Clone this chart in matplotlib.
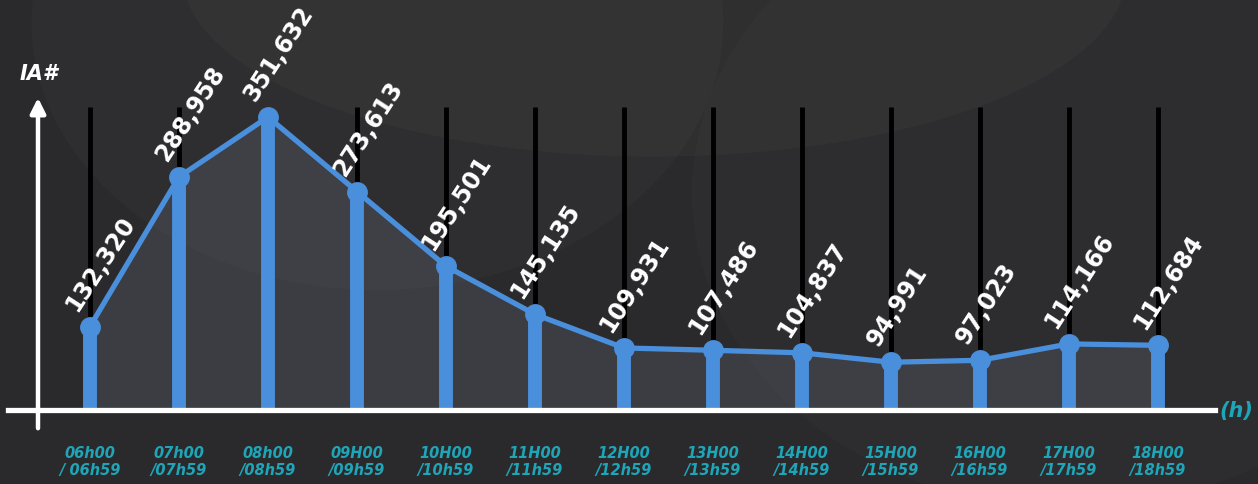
import matplotlib
matplotlib.use("Agg")
import matplotlib.pyplot as plt
from matplotlib.patches import Ellipse

# chart data
hours = ["06h00\n/ 06h59", "07h00\n/07h59", "08h00\n/08h59", "09H00\n/09h59",
         "10H00\n/10h59", "11H00\n/11h59", "12H00\n/12h59", "13H00\n/13h59",
         "14H00\n/14h59", "15H00\n/15h59", "16H00\n/16h59", "17H00\n/17h59",
         "18H00\n/18h59"]
counts = [132320, 288958, 351632, 273613, 195501, 145135, 109931,
          107486, 104837, 94991, 97023, 114166, 112684]
value_labels = ["132,320", "288,958", "351,632", "273,613", "195,501", "145,135",
                "109,931", "107,486", "104,837", "94,991", "97,023", "114,166",
                "112,684"]
y_title = "IA#"
x_title = "(h)"

BG = "#2a2a2c"
BLUE = "#4a8fdc"
CYAN = "#1fa5b8"

W, H = 1258, 485
fig = plt.figure(figsize=(W / 100, H / 100), dpi=100)
fig.patch.set_facecolor(BG)
ax = fig.add_axes([0, 0, 1, 1])
ax.set_facecolor(BG)

# soft background swooshes
for (cx, cy, w, h, a) in [(0.52, 1.05, 0.75, 0.75, 0.025), (0.30, 0.95, 0.55, 1.1, 0.018),
                          (0.85, 0.60, 0.6, 1.3, 0.015)]:
    ax.add_patch(Ellipse((cx, cy), w, h, transform=ax.transAxes, fc="white",
                         alpha=a, ec="none", zorder=0))

# map layout: first bar at x=90px, spacing 89px, baseline at y=411px
base = 45000
x0_px, dx_px = 90, 89
ax.set_xlim(-x0_px / dx_px, (W - x0_px) / dx_px)
f_base = 1 - 411 / H
f_peak = 1 - 118 / H
span = (max(counts) - base) / (f_peak - f_base)
ymin = base - f_base * span
ax.set_ylim(ymin, ymin + span)
ax.axis("off")

xs = list(range(len(counts)))
top_val = ymin + (1 - 108 / H) * span

# black guide lines
ax.vlines(xs, base, top_val, color="black", lw=3.5, zorder=1)

# filled area under line
ax.fill_between(xs, base, counts, color="#7a8396", alpha=0.22, lw=0, zorder=2)

# blue bars, line and points
ax.vlines(xs, base, counts, color=BLUE, lw=10, zorder=3)
ax.plot(xs, counts, color=BLUE, lw=3.8, zorder=4, solid_capstyle="round")
ax.plot(xs, counts, "o", color=BLUE, ms=14, zorder=5)

# value labels
for x, v, lab in zip(xs, counts, value_labels):
    ax.annotate(lab, (x, v), xytext=(-6, 9), textcoords="offset points",
                rotation=57, rotation_mode="anchor", ha="left", va="bottom",
                color="white", fontsize=17, fontweight="bold", zorder=6)

# hour labels
for x, lab in zip(xs, hours):
    ax.text(x, ymin + (1 - 462 / H) * span, lab, ha="center", va="center",
            color=CYAN, fontsize=10.5, fontweight="bold", style="italic",
            linespacing=1.15, zorder=6)

# axes drawn as white strokes
ax.axhline(base, xmin=8 / W, xmax=1215 / W, color="white", lw=3.8, zorder=7)
ax.annotate("", xy=(38 / W, 1 - 96 / H), xytext=(38 / W, 1 - 432 / H),
            xycoords="axes fraction", textcoords="axes fraction",
            arrowprops=dict(arrowstyle="-|>,head_width=0.45,head_length=0.9",
                            color="white", lw=3.2), zorder=7)
ax.text(20 / W, 1 - 74 / H, y_title, transform=ax.transAxes, ha="left", va="center",
        color="white", fontsize=15, fontweight="bold", style="italic")
ax.text(1219 / W, 1 - 411 / H, x_title, transform=ax.transAxes, ha="left",
        va="center", color=CYAN, fontsize=15, fontweight="bold", style="italic")

fig.savefig("out.png", dpi=100, facecolor=BG)
